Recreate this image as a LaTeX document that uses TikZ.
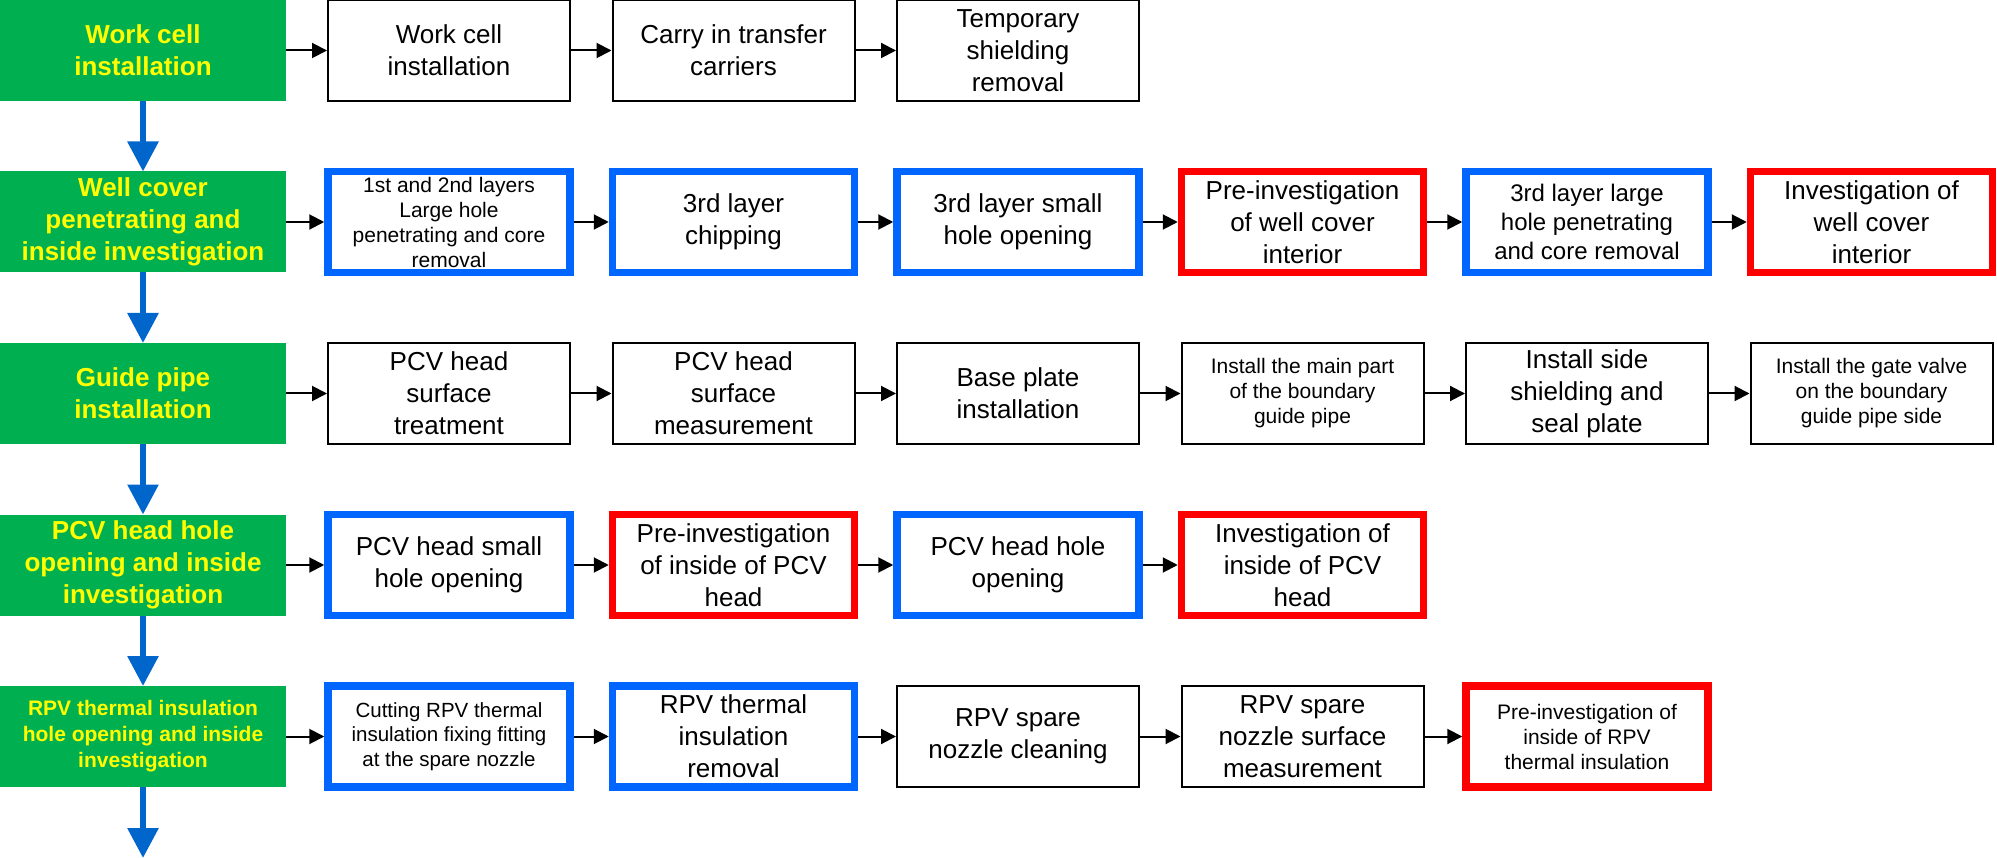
\documentclass[tikz,border=0pt]{standalone}
\usepackage{fontspec}
\setmainfont{Liberation Sans}
\usetikzlibrary{positioning,arrows.meta}

\definecolor{phasegreen}{RGB}{0,176,80}
\definecolor{phaseyellow}{RGB}{255,255,0}
\definecolor{workblue}{RGB}{0,102,255}
\definecolor{probered}{RGB}{255,0,0}
\definecolor{downblue}{RGB}{0,102,204}

\begin{document}
\begin{tikzpicture}[x=1pt,y=1pt,
    phasebox/.style={fill=phasegreen, text=phaseyellow, font=\bfseries\fontsize{26}{32}\selectfont, align=center, minimum width=286pt, minimum height=101pt, inner sep=0pt, outer sep=0pt},
    stepbox/.style={draw, line width=2pt, fill=white, font=\fontsize{26}{32}\selectfont, align=center, minimum width=242pt, minimum height=101pt, inner sep=0pt},
    workbox/.style={stepbox, draw=workblue, line width=7.5pt},
    probebox/.style={stepbox, draw=probered, line width=7.5pt},
    smalltext/.style={font=\fontsize{21}{25}\selectfont},
    flow/.style={-{Triangle[width=15pt,length=15pt]}, line width=2pt},
    phaseflow/.style={-{Triangle[width=30pt,length=30pt]}, line width=6pt, draw=downblue}]

        \useasboundingbox (0,0) rectangle (1997,-858);

        % Phases
        \node[phasebox] (phase1) at (143,-50.5) {Work cell\\installation};
        \node[phasebox, below=70.5pt of phase1] (phase2) {Well cover\\penetrating and\\inside investigation};
        \node[phasebox, below=70.5pt of phase2] (phase3) {Guide pipe\\installation};
        \node[phasebox, below=70.5pt of phase3] (phase4) {PCV head hole\\opening and inside\\investigation};
        \node[phasebox, below=70.5pt of phase4, font=\bfseries\fontsize{21}{26}\selectfont] (phase5) {RPV thermal insulation\\hole opening and inside\\investigation};
        \coordinate (next) at (143,-858);

        % Work cell installation
        \node[stepbox, right=41pt of phase1] (cell1) {Work cell\\installation};
        \node[stepbox, right=40.5pt of cell1] (cell2) {Carry in transfer\\carriers};
        \node[stepbox, right=40.5pt of cell2] (cell3) {Temporary\\shielding\\removal};

        % Well cover penetrating
        \node[workbox, smalltext, right=38.25pt of phase2] (well1) {1st and 2nd layers\\Large hole\\penetrating and core\\removal};
        \node[workbox, right=35pt of well1] (well2) {3rd layer\\chipping};
        \node[workbox, right=35pt of well2] (well3) {3rd layer small\\hole opening};
        \node[probebox, right=35pt of well3] (well4) {Pre-investigation\\of well cover\\interior};
        \node[workbox, right=35pt of well4, font=\fontsize{24}{29}\selectfont] (well5) {3rd layer large\\hole penetrating\\and core removal};
        \node[probebox, right=35pt of well5] (well6) {Investigation of\\well cover\\interior};

        % Guide pipe installation
        \node[stepbox, right=41pt of phase3] (pipe1) {PCV head\\surface\\treatment};
        \node[stepbox, right=40.5pt of pipe1] (pipe2) {PCV head\\surface\\measurement};
        \node[stepbox, right=40.5pt of pipe2] (pipe3) {Base plate\\installation};
        \node[stepbox, smalltext, right=40.5pt of pipe3] (pipe4) {Install the main part\\of the boundary\\guide pipe};
        \node[stepbox, right=40.5pt of pipe4] (pipe5) {Install side\\shielding and\\seal plate};
        \node[stepbox, smalltext, right=40.5pt of pipe5] (pipe6) {Install the gate valve\\on the boundary\\guide pipe side};

        % PCV head hole opening
        \node[workbox, right=38.25pt of phase4] (head1) {PCV head small\\hole opening};
        \node[probebox, right=35pt of head1] (head2) {Pre-investigation\\of inside of PCV\\head};
        \node[workbox, right=35pt of head2] (head3) {PCV head hole\\opening};
        \node[probebox, right=35pt of head3] (head4) {Investigation of\\inside of PCV\\head};

        % RPV thermal insulation hole opening
        \node[workbox, right=38.25pt of phase5, font=\fontsize{20.5}{24.5}\selectfont] (rpv1) {Cutting RPV thermal\\insulation fixing fitting\\at the spare nozzle};
        \node[workbox, right=35pt of rpv1] (rpv2) {RPV thermal\\insulation\\removal};
        \node[stepbox, right=37.75pt of rpv2] (rpv3) {RPV spare\\nozzle cleaning};
        \node[stepbox, right=40.5pt of rpv3] (rpv4) {RPV spare\\nozzle surface\\measurement};
        \node[probebox, smalltext, right=37.75pt of rpv4] (rpv5) {Pre-investigation of\\inside of RPV\\thermal insulation};

        % Phase order
        \draw[phaseflow] (phase1) -- (phase2);
        \draw[phaseflow] (phase2) -- (phase3);
        \draw[phaseflow] (phase3) -- (phase4);
        \draw[phaseflow] (phase4) -- (phase5);
        \draw[phaseflow] (phase5) -- (next);

        % Step order
        \draw[flow] (phase1) -- (cell1);
        \draw[flow] (cell1) -- (cell2);
        \draw[flow] (cell2) -- (cell3);
        \draw[flow] (phase2) -- (well1);
        \draw[flow] (well1) -- (well2);
        \draw[flow] (well2) -- (well3);
        \draw[flow] (well3) -- (well4);
        \draw[flow] (well4) -- (well5);
        \draw[flow] (well5) -- (well6);
        \draw[flow] (phase3) -- (pipe1);
        \draw[flow] (pipe1) -- (pipe2);
        \draw[flow] (pipe2) -- (pipe3);
        \draw[flow] (pipe3) -- (pipe4);
        \draw[flow] (pipe4) -- (pipe5);
        \draw[flow] (pipe5) -- (pipe6);
        \draw[flow] (phase4) -- (head1);
        \draw[flow] (head1) -- (head2);
        \draw[flow] (head2) -- (head3);
        \draw[flow] (head3) -- (head4);
        \draw[flow] (phase5) -- (rpv1);
        \draw[flow] (rpv1) -- (rpv2);
        \draw[flow] (rpv2) -- (rpv3);
        \draw[flow] (rpv3) -- (rpv4);
        \draw[flow] (rpv4) -- (rpv5);

\end{tikzpicture}
\end{document}
